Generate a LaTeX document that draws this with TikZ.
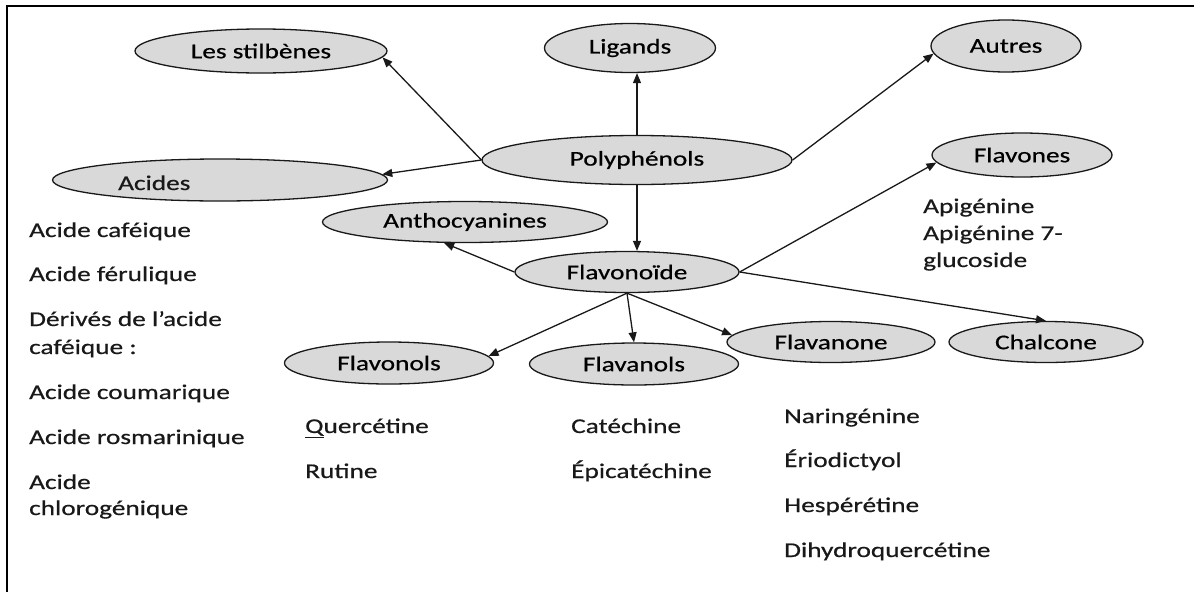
\documentclass[tikz,border=0pt]{standalone}
\usepackage{fontspec}
\setmainfont[FakeStretch=1.3,FakeBold=0.6]{Carlito}
\usetikzlibrary{shapes.geometric,arrows.meta}
\begin{document}
\begin{tikzpicture}[x=1pt,y=-1pt,
  font=\fontsize{21}{26}\selectfont,
  bub/.style={ellipse,draw=black!90,fill=black!15,line width=1.3pt,inner sep=0pt},
  lbl/.style={anchor=base west,inner sep=0pt,text=black!90},
  arr/.style={-{Triangle[length=10pt,width=8pt]},line width=1.3pt,draw=black!90}]
\useasboundingbox (0,0) rectangle (1194,592);
\draw[line width=2pt] (7,592) -- (7,6) -- (1194,6);

% ellipses
\node[bub,minimum width=252pt,minimum height=44pt] (stil) at (261,51) {Les stilbènes};
\node[bub,minimum width=335pt,minimum height=42pt] (acid) at (220,180) {};
\node[lbl] (acidt) at (118,190) {Acides};
\node[bub,minimum width=171pt,minimum height=49pt] (lig) at (630,48) {Ligands};
\node[bub,minimum width=310pt,minimum height=49pt] (poly) at (637,160) {Polyphénols};
\node[bub,minimum width=150pt,minimum height=52pt] (aut) at (1006,46) {Autres};
\node[bub,minimum width=180pt,minimum height=44pt] (flav) at (1022,155) {Flavones};
\node[bub,minimum width=285pt,minimum height=41pt] (antho) at (465,222) {Anthocyanines};
\node[bub,minimum width=224pt,minimum height=41pt] (flvd) at (627,272) {Flavonoïde};
\node[bub,minimum width=209pt,minimum height=42pt] (flol) at (389,363) {Flavonols};
\node[bub,minimum width=209pt,minimum height=42pt] (flal) at (634,364) {Flavanols};
\node[bub,minimum width=208pt,minimum height=41pt] (flan) at (831,342) {Flavanone};
\node[bub,minimum width=194pt,minimum height=41pt] (chal) at (1046,342) {Chalcone};

% connectors
\draw[arr] (poly.west) -- (stil.-3);
\draw[arr] (poly.west) -- (acid.2);
\draw[arr] (poly.north) -- (poly.north |- lig.south);
\draw[arr] (poly.east) -- (aut.186);
\draw[arr] (poly.south) -- (poly.south |- flvd.north);
\draw[arr] (flvd.west) -- (antho.225);
\draw[arr] (flvd.east) -- (flav.185);
\draw[arr] (flvd.east) -- (chal.north);
\draw[arr] (flvd.south) -- (flol.4);
\draw[arr] (flvd.south) -- (flal.north);
\draw[arr] (flvd.south) -- (flan.176);

% acides list
\node[lbl] (a1) at (29,237) {Acide caféique};
\node[lbl] (a2) at (29,281) {Acide férulique};
\node[lbl] (a3) at (29,326) {Dérivés de l’acide};
\node[lbl] (a3b) at (29,354) {caféique :};
\node[lbl] (a4) at (29,399) {Acide coumarique};
\node[lbl] (a5) at (29,444) {Acide rosmarinique};
\node[lbl] (a6) at (29,489) {Acide};
\node[lbl] (a6b) at (29,515) {chlorogénique};

% flavones list
\node[lbl] (f1) at (923,213) {Apigénine};
\node[lbl] (f2) at (923,240) {Apigénine 7-};
\node[lbl] (f3) at (923,267) {glucoside};

% flavonols list
\node[lbl] (q1) at (305,433) {\underline{Q}uercétine};
\node[lbl] (q2) at (305,478) {Rutine};

% flavanols list
\node[lbl] (c1) at (571,433) {Catéchine};
\node[lbl] (c2) at (571,478) {Épicatéchine};

% flavanone list
\node[lbl] (n1) at (784,423) {Naringénine};
\node[lbl] (n2) at (784,467) {Ériodictyol};
\node[lbl] (n3) at (784,512) {Hespérétine};
\node[lbl] (n4) at (784,557) {Dihydroquercétine};
\end{tikzpicture}
\end{document}
